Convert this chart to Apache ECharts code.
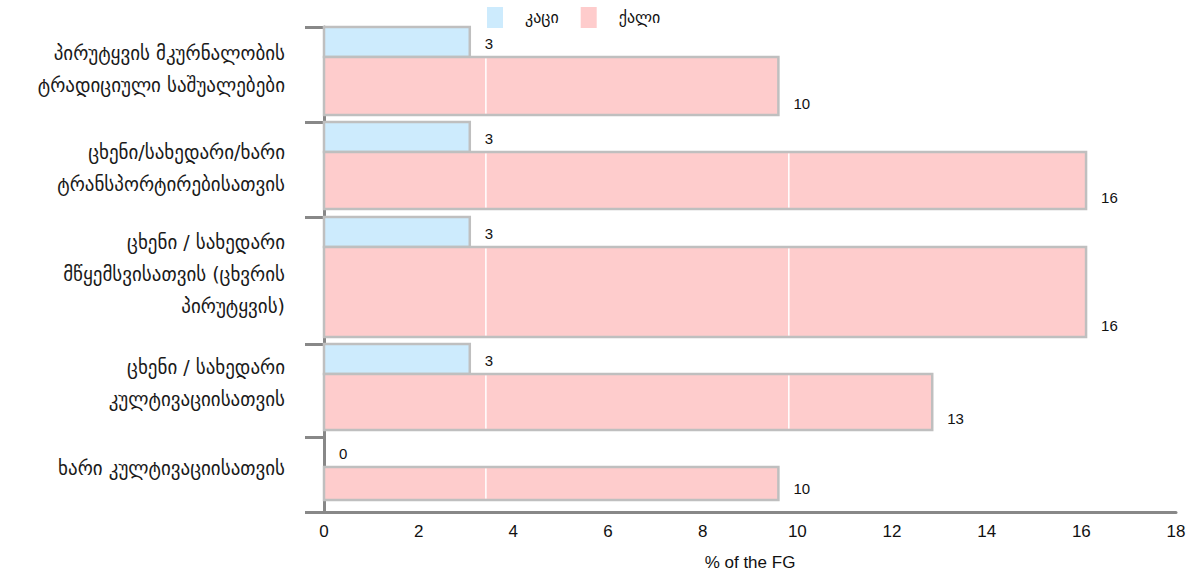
<!DOCTYPE html>
<html>
<head>
<meta charset="utf-8">
<script src="https://cdn.jsdelivr.net/npm/echarts@6/dist/echarts.min.js"></script>
<style>
html,body{margin:0;padding:0;background:#fff;}
#chart{width:1196px;height:573px;}
</style>
</head>
<body>
<div id="chart"></div>
<script>
// ---- data ----
const categories = [
  'პირუტყვის მკურნალობის\nტრადიციული საშუალებები',
  'ცხენი/სახედარი/ხარი\nტრანსპორტირებისათვის',
  'ცხენი / სახედარი\nმწყემსვისათვის (ცხვრის\nპირუტყვის)',
  'ცხენი / სახედარი\nკულტივაციისათვის',
  'ხარი კულტივაციისათვის'
];
const seriesNames = ['კაცი', 'ქალი'];
const menValues = [3.08, 3.08, 3.08, 3.08, 0];
const womenValues = [9.6, 16.1, 16.1, 12.85, 9.6];
const xAxisName = '% of the FG';

// ---- layout (vertical band geometry, in units of the hidden y scale) ----
const bandEdges = [0, 95, 190, 317, 410, 485];
const menBarSpan = 30;
const womenBarBottoms = [88, 182, 310, 403, 473];
const labelCenters = [42, 141, 247, 356, 441];
const guideValues = [3.42, 9.82];

const MEN_COLOR = '#cdebfd';
const WOMEN_COLOR = '#fecccc';
const BORDER = '#bfbfbf';
const NUM_FONT = '"Liberation Sans", Arial, sans-serif';
const GEO_FONT = '"DejaVu Sans", sans-serif';
const LABEL_OFFSET = 15;

function barGroup(api, i, v, top, bottom, fill, labelPos) {
  const p0 = api.coord([0, top]);
  const p1 = api.coord([v, bottom]);
  const children = [];
  if (v > 0) {
    children.push({
      type: 'rect',
      shape: { x: p0[0], y: p0[1], width: p1[0] - p0[0], height: p1[1] - p0[1] },
      style: { fill: fill, stroke: BORDER, lineWidth: 2.5 }
    });
    guideValues.forEach(function (g) {
      if (g < v) {
        const gx = api.coord([g, top])[0];
        children.push({
          type: 'line',
          shape: { x1: gx, y1: p0[1] + 1.5, x2: gx, y2: p1[1] - 1.5 },
          style: { stroke: '#ffffff', lineWidth: 1.5 }
        });
      }
    });
  }
  const ty = labelPos === 'bottom' ? p1[1] - 12 : (p0[1] + p1[1]) / 2 + 1;
  children.push({
    type: 'text',
    x: p1[0] + LABEL_OFFSET,
    y: ty,
    style: {
      text: String(Math.round(v)),
      fill: '#111',
      font: '15px ' + NUM_FONT,
      textAlign: 'left',
      textVerticalAlign: 'middle'
    }
  });
  return { type: 'group', children: children };
}

const chart = echarts.init(document.getElementById('chart'), null, { renderer: 'svg' });

const option = {
  animation: false,
  backgroundColor: '#ffffff',
  legend: {
    data: seriesNames,
    left: 482,
    top: 2,
    icon: 'rect',
    itemWidth: 16,
    itemHeight: 21,
    itemGap: 22,
    itemStyle: { borderWidth: 0 },
    textStyle: { fontFamily: GEO_FONT, fontSize: 16, color: '#111', padding: [0, 0, 0, 17] }
  },
  grid: {
    left: 324,
    right: 20,
    top: 27,
    bottom: 61,
    outerBoundsMode: 'none',
    containLabel: false
  },
  xAxis: {
    type: 'value',
    min: 0,
    max: 18,
    interval: 2,
    name: xAxisName,
    nameLocation: 'middle',
    nameGap: 42,
    nameTextStyle: { fontFamily: NUM_FONT, fontSize: 17, color: '#111' },
    axisLine: { show: true, onZero: false, lineStyle: { color: '#888', width: 3 } },
    axisTick: { show: false },
    splitLine: { show: false },
    axisLabel: { fontFamily: NUM_FONT, fontSize: 17, color: '#111', margin: 11 }
  },
  yAxis: {
    type: 'value',
    inverse: true,
    min: bandEdges[0],
    max: bandEdges[bandEdges.length - 1],
    axisLine: { show: true, onZero: false, lineStyle: { color: '#888', width: 3 } },
    axisTick: { show: true, length: 19, customValues: bandEdges, lineStyle: { color: '#888', width: 3 } },
    splitLine: { show: false },
    axisLabel: {
      customValues: labelCenters,
      margin: 39,
      fontFamily: GEO_FONT,
      fontSize: 19,
      lineHeight: 32,
      color: '#1a1a1a',
      align: 'right',
      formatter: function (val) {
        const idx = labelCenters.indexOf(val);
        return idx >= 0 ? categories[idx] : '';
      }
    }
  },
  series: [
    {
      name: seriesNames[0],
      type: 'custom',
      clip: false,
      itemStyle: { color: MEN_COLOR, borderWidth: 0 },
      encode: { x: 0, y: 1 },
      data: menValues.map(function (v, i) { return [v, i]; }),
      renderItem: function (params, api) {
        const i = params.dataIndex;
        const top = bandEdges[i];
        return barGroup(api, i, api.value(0), top, top + menBarSpan, MEN_COLOR, 'middle');
      }
    },
    {
      name: seriesNames[1],
      type: 'custom',
      clip: false,
      itemStyle: { color: WOMEN_COLOR, borderWidth: 0 },
      encode: { x: 0, y: 1 },
      data: womenValues.map(function (v, i) { return [v, i]; }),
      renderItem: function (params, api) {
        const i = params.dataIndex;
        const top = bandEdges[i] + menBarSpan;
        return barGroup(api, i, api.value(0), top, womenBarBottoms[i], WOMEN_COLOR, 'bottom');
      }
    }
  ]
};

chart.setOption(option);
</script>
</body>
</html>
